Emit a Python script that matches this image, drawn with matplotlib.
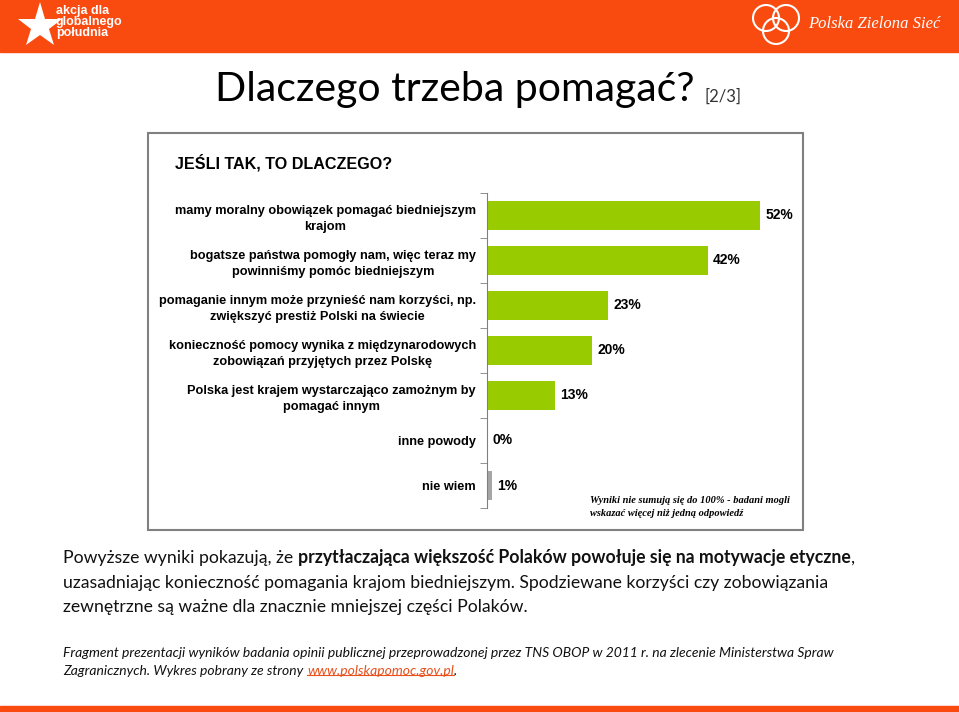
import numpy as np
import matplotlib
matplotlib.use("Agg")
import matplotlib.pyplot as plt
from matplotlib.patches import Rectangle, Ellipse
from matplotlib.lines import Line2D

# dane z wykresu
categories = [
    "mamy moralny obowiązek pomagać biedniejszym\nkrajom",
    "bogatsze państwa pomogły nam, więc teraz my\npowinniśmy pomóc biedniejszym",
    "pomaganie innym może przynieść nam korzyści, np.\nzwiększyć prestiż Polski na świecie",
    "konieczność pomocy wynika z międzynarodowych\nzobowiązań przyjętych przez Polskę",
    "Polska jest krajem wystarczająco zamożnym by\npomagać innym",
    "inne powody",
    "nie wiem",
]
values = [52, 42, 23, 20, 13, 0, 1]
bar_colors = ["#99CC00"] * 6 + ["#A6A6A6"]

W, H = 959, 712
ORANGE = "#F94A10"


def fx(x):
    return x / W


def fy(y):
    return 1 - y / H


fig = plt.figure(figsize=(W / 100, H / 100), dpi=100)
fig.patch.set_facecolor("white")

# ============================================
# naglowek i stopka slajdu
# ============================================
fig.patches.append(Rectangle((0, fy(52)), 1, 52 / H, transform=fig.transFigure,
                             color=ORANGE, zorder=0))
fig.patches.append(Rectangle((0, 0), 1, 6 / H, transform=fig.transFigure,
                             color=ORANGE, zorder=0))

# logo lewe
fig.add_artist(Line2D([fx(40)], [fy(26)], marker="*", markersize=34, color="white",
                      markeredgewidth=0, transform=fig.transFigure))
fig.text(fx(56), fy(22), "akcja dla\nglobalnego\npołudnia", color="white",
         fontsize=9, fontweight="bold", va="center", linespacing=0.85,
         family="Liberation Sans")

# logo prawe
for cx, cy in [(766, 18), (786, 18), (776, 31)]:
    fig.patches.append(Ellipse((fx(cx), fy(cy)), 26 / W, 26 / H, transform=fig.transFigure,
                               fill=False, ec="white", lw=1.5))
fig.text(fx(808), fy(24), "Polska Zielona Sieć", color="white", fontsize=12,
         style="italic", va="center", family="Liberation Serif")

# tytul
fig.text(fx(215), fy(90), "Dlaczego trzeba pomagać?", fontsize=29.5, va="center",
         family="Lato", color="black")
fig.text(fx(705), fy(97), "[2/3]", fontsize=12, va="center", family="Lato", color="#333333")

# ============================================
# wykres
# ============================================
fig.patches.append(Rectangle((fx(148), fy(530)), (803 - 148) / W, (530 - 133) / H,
                             transform=fig.transFigure, fill=False, ec="#808080", lw=1.5))
fig.text(fx(175), fy(163), "JEŚLI TAK, TO DLACZEGO?", fontsize=11.6, fontweight="bold",
         va="center", family="Liberation Sans")

ax = fig.add_axes([fx(487), fy(508), (790 - 487) / W, (508 - 193) / H])
ax.set_facecolor("none")
y = np.arange(len(values))
ax.barh(y, values, height=0.64, color=bar_colors)
ax.set_xlim(0, (790 - 487) / 5.25)
ax.set_ylim(len(values) - 0.5, -0.5)
ax.set_yticks(y, categories, fontsize=9.2, fontweight="bold", family="Liberation Sans")
for t in ax.get_yticklabels():
    t.set_multialignment("center")
    t.set_linespacing(1.45)
ax.set_yticks(np.arange(-0.5, len(values), 1), minor=True)
ax.tick_params(axis="y", which="major", length=0, pad=8)
ax.tick_params(axis="y", which="minor", length=5, color="#808080")
ax.set_xticks([])
for s in ["top", "right", "bottom"]:
    ax.spines[s].set_visible(False)
ax.spines["left"].set_color("#808080")

for i, v in enumerate(values):
    ax.text(v + 1.0, i, f"{v}%", va="center", fontsize=10, fontweight="bold",
            family="Liberation Sans")

fig.text(fx(590), fy(507), "Wyniki nie sumują się do 100% - badani mogli\nwskazać więcej niż jedną odpowiedź",
         family="Liberation Serif", style="italic", fontweight="bold", fontsize=7.5,
         va="center", linespacing=1.5)

# ============================================
# tekst pod wykresem
# ============================================
body = dict(fontsize=12.7, family="Lato", color="#111111")
t1 = fig.text(fx(63), fy(566), "Powyższe wyniki pokazują, że", va="bottom", **body)
t2 = plt.annotate("przytłaczająca większość Polaków powołuje się na motywacje etyczne",
                  xy=(1, 0), xycoords=t1, xytext=(3.8, 0), textcoords="offset points",
                  va="bottom", fontweight="bold", **body)
plt.annotate(",", xy=(1, 0), xycoords=t2, va="bottom", **body)
fig.text(fx(63), fy(591), "uzasadniając konieczność pomagania krajom biedniejszym. Spodziewane korzyści czy zobowiązania",
         va="bottom", **body)
fig.text(fx(63), fy(615), "zewnętrzne są ważne dla znacznie mniejszej części Polaków.", va="bottom", **body)

foot = dict(fontsize=10, family="Lato", style="italic", color="#111111")
fig.text(fx(63), fy(659), "Fragment prezentacji wyników badania opinii publicznej przeprowadzonej przez TNS OBOP w 2011 r. na zlecenie Ministerstwa Spraw",
         va="bottom", **foot)
f1 = fig.text(fx(63), fy(677), "Zagranicznych. Wykres pobrany ze strony", va="bottom", **foot)
f2 = plt.annotate("www.polskapomoc.gov.pl", xy=(1, 0), xycoords=f1, xytext=(2.8, 0),
                  textcoords="offset points", va="bottom",
                  **{**foot, "color": "#E8501E"})
plt.annotate(".", xy=(1, 0), xycoords=f2, va="bottom", **foot)

# podkreslenie linku
fig.canvas.draw()
bb = f2.get_window_extent()
uy = bb.y0 + 2
fig.add_artist(Line2D([bb.x0 / W, bb.x1 / W], [uy / H, uy / H], color="#E8501E", lw=0.8,
                      transform=fig.transFigure))

fig.savefig("out.png", dpi=100)
